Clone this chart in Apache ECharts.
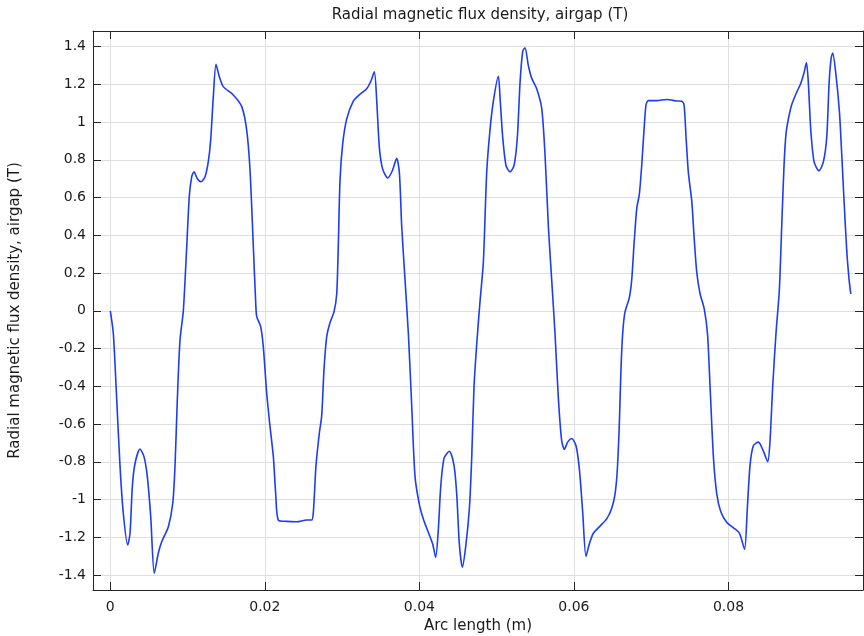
<!DOCTYPE html>
<html>
<head>
<meta charset="utf-8">
<title>Radial magnetic flux density, airgap (T)</title>
<script src="https://cdn.jsdelivr.net/npm/echarts@6/dist/echarts.min.js"></script>
<style>
  html, body { margin: 0; padding: 0; background: #ffffff; }
  #chart { width: 864px; height: 636px; }
</style>
</head>
<body>
<div id="chart"></div>
<script>
// Arc length along the airgap (m)
const arcLength = [
  0, 0.00039, 0.00083, 0.00126, 0.00168, 0.00225, 0.00255, 0.00285, 0.0032, 0.00384,
  0.00436, 0.00479, 0.00523, 0.00569, 0.00621, 0.00665, 0.00751, 0.00808, 0.00837, 0.00867,
  0.00902, 0.00945, 0.00989, 0.01022, 0.01053, 0.01083, 0.01126, 0.01174, 0.01226, 0.01268,
  0.01299, 0.01333, 0.01368, 0.01411, 0.01462, 0.01592, 0.01701, 0.01765, 0.01808, 0.01851,
  0.01882, 0.01895, 0.01946, 0.0198, 0.02024, 0.02067, 0.0211, 0.0214, 0.02174, 0.02283,
  0.02412, 0.02541, 0.02606, 0.02628, 0.02662, 0.02705, 0.02736, 0.02766, 0.028, 0.02843,
  0.02895, 0.0293, 0.02951, 0.02973, 0.03007, 0.03059, 0.03145, 0.03232, 0.03318, 0.0337,
  0.03417, 0.03448, 0.03482, 0.03525, 0.0359, 0.0365, 0.03706, 0.03741, 0.03771, 0.03814,
  0.03857, 0.039, 0.03943, 0.04, 0.04051, 0.04129, 0.04172, 0.04211, 0.04245, 0.04276,
  0.04319, 0.04388, 0.04448, 0.04483, 0.04517, 0.04556, 0.04603, 0.04647, 0.04677, 0.04707,
  0.04742, 0.04785, 0.04828, 0.04871, 0.04914, 0.04957, 0.05022, 0.05044, 0.05078, 0.05121,
  0.05173, 0.05225, 0.05268, 0.05302, 0.05337, 0.05367, 0.0541, 0.05453, 0.05518, 0.05583,
  0.05626, 0.05669, 0.05712, 0.05755, 0.05798, 0.05841, 0.05876, 0.05919, 0.05971, 0.06027,
  0.0607, 0.06113, 0.06156, 0.06199, 0.06251, 0.06338, 0.06424, 0.06489, 0.06532, 0.06562,
  0.06588, 0.06609, 0.06631, 0.06661, 0.06717, 0.06748, 0.06778, 0.06813, 0.06847, 0.06877,
  0.06907, 0.06933, 0.06963, 0.07071, 0.072, 0.0733, 0.07395, 0.07425, 0.07451, 0.07481,
  0.07525, 0.07555, 0.0759, 0.07633, 0.07685, 0.07728, 0.07762, 0.07806, 0.07849, 0.07901,
  0.07979, 0.08065, 0.08143, 0.08208, 0.08244, 0.08279, 0.08322, 0.08387, 0.08452, 0.08508,
  0.08538, 0.08572, 0.08615, 0.08658, 0.08689, 0.08719, 0.08745, 0.08775, 0.08818, 0.08883,
  0.08935, 0.08978, 0.09009, 0.09034, 0.09065, 0.09108, 0.09172, 0.09228, 0.09272, 0.09302,
  0.09328, 0.09349, 0.09393, 0.09436, 0.09466, 0.09496, 0.09531, 0.09561, 0.09583
];

// Radial flux density in the airgap (T)
const fluxDensity = [
  0.0, -0.12, -0.47, -0.826, -1.073, -1.241, -1.18, -0.932, -0.808, -0.732,
  -0.773, -0.879, -1.091, -1.391, -1.285, -1.224, -1.144, -1.02, -0.826, -0.473,
  -0.155, 0.0, 0.34, 0.605, 0.71, 0.737, 0.70, 0.684, 0.71, 0.79,
  0.905, 1.135, 1.306, 1.24, 1.188, 1.144, 1.082, 0.958, 0.746, 0.34,
  0.04, -0.031, -0.084, -0.19, -0.437, -0.614, -0.773, -0.967, -1.109, -1.116,
  -1.118, -1.109, -1.109, -1.065, -0.819, -0.649, -0.554, -0.308, -0.138, -0.063,
  -0.006, 0.089, 0.354, 0.694, 0.883, 1.016, 1.111, 1.148, 1.177, 1.215,
  1.266, 1.111, 0.865, 0.751, 0.704, 0.742, 0.808, 0.732, 0.448, 0.165,
  -0.119, -0.498, -0.876, -1.027, -1.103, -1.188, -1.236, -1.307, -1.16, -0.933,
  -0.781, -0.744, -0.819, -0.971, -1.236, -1.359, -1.236, -1.046, -0.781, -0.403,
  -0.176, 0.051, 0.259, 0.732, 0.959, 1.11, 1.243, 1.129, 0.921, 0.77,
  0.736, 0.77, 0.921, 1.205, 1.375, 1.394, 1.3, 1.233, 1.177, 1.073,
  0.827, 0.448, 0.165, -0.119, -0.46, -0.687, -0.734, -0.696, -0.677, -0.715,
  -0.838, -1.065, -1.302, -1.236, -1.179, -1.141, -1.103, -1.046, -0.971, -0.838,
  -0.592, -0.308, -0.119, -0.006, 0.07, 0.165, 0.354, 0.543, 0.619, 0.77,
  0.959, 1.092, 1.114, 1.114, 1.12, 1.112, 1.11, 1.092, 0.921, 0.732,
  0.581, 0.392, 0.202, 0.089, 0.013, -0.119, -0.403, -0.781, -0.971, -1.065,
  -1.122, -1.15, -1.179, -1.264, -1.046, -0.819, -0.715, -0.696, -0.744, -0.8,
  -0.687, -0.403, -0.119, 0.108, 0.448, 0.77, 0.94, 1.016, 1.092, 1.158,
  1.205, 1.262, 1.315, 1.205, 0.959, 0.789, 0.742, 0.789, 0.921, 1.205,
  1.338, 1.366, 1.243, 1.054, 0.827, 0.581, 0.316, 0.165, 0.089
];

// Axis ticks
const xTicks = [0, 0.02, 0.04, 0.06, 0.08];
const yTicks = [-1.4, -1.2, -1, -0.8, -0.6, -0.4, -0.2, 0, 0.2, 0.4, 0.6, 0.8, 1, 1.2, 1.4];

// Axis ranges
const xRange = [-0.00224, 0.09741];
const yRange = [-1.4796, 1.4828];

const titleText = 'Radial magnetic flux density, airgap (T)';
const xName = 'Arc length (m)';
const yName = 'Radial magnetic flux density, airgap (T)';

const FONT = 'DejaVu Sans';
const TEXT_COLOR = '#1a1a1a';
const FRAME_COLOR = '#262626';
const GRID_COLOR = '#dedede';
const LINE_COLOR = '#1d3cf5';

const seriesData = arcLength.map((x, i) => [x, fluxDensity[i]]);

const frameLine = { show: true, onZero: false, lineStyle: { color: FRAME_COLOR, width: 1 } };

const chart = echarts.init(document.getElementById('chart'), null, { renderer: 'canvas' });

chart.setOption({
  animation: false,
  backgroundColor: '#ffffff',
  title: {
    text: titleText,
    left: 480,
    top: 8,
    padding: 0,
    textAlign: 'center',
    textStyle: { fontFamily: FONT, fontSize: 15, fontWeight: 'normal', color: TEXT_COLOR }
  },
  // fixed plot rectangle; labels and names sit outside it
  grid: { left: 93, right: 1, top: 31, bottom: 46, containLabel: false, outerBoundsMode: 'none' },
  xAxis: [
    {
      type: 'value',
      position: 'bottom',
      min: xRange[0],
      max: xRange[1],
      name: xName,
      nameLocation: 'middle',
      nameGap: 28,
      nameTextStyle: { fontFamily: FONT, fontSize: 15, color: TEXT_COLOR },
      axisLine: frameLine,
      axisTick: { show: true, inside: true, length: 8, customValues: xTicks,
                  lineStyle: { color: FRAME_COLOR, width: 1 } },
      axisLabel: { show: true, customValues: xTicks, margin: 10, showMinLabel: true, showMaxLabel: true,
                   fontFamily: FONT, fontSize: 14, color: TEXT_COLOR,
                   formatter: v => String(v) },
      splitLine: { show: true, lineStyle: { color: GRID_COLOR, width: 1 } }
    },
    {
      type: 'value',
      position: 'top',
      min: xRange[0],
      max: xRange[1],
      axisLine: frameLine,
      axisTick: { show: true, inside: true, length: 8, customValues: xTicks,
                  lineStyle: { color: FRAME_COLOR, width: 1 } },
      axisLabel: { show: false },
      splitLine: { show: false }
    }
  ],
  yAxis: [
    {
      type: 'value',
      position: 'left',
      min: yRange[0],
      max: yRange[1],
      name: yName,
      nameLocation: 'middle',
      nameGap: 70,
      nameTextStyle: { fontFamily: FONT, fontSize: 15, color: TEXT_COLOR },
      axisLine: frameLine,
      axisTick: { show: true, inside: true, length: 8, customValues: yTicks,
                  lineStyle: { color: FRAME_COLOR, width: 1 } },
      axisLabel: { show: true, customValues: yTicks, margin: 7,
                   fontFamily: FONT, fontSize: 14, color: TEXT_COLOR,
                   formatter: v => String(v) },
      splitLine: { show: true, lineStyle: { color: GRID_COLOR, width: 1 } }
    },
    {
      type: 'value',
      position: 'right',
      min: yRange[0],
      max: yRange[1],
      axisLine: frameLine,
      axisTick: { show: true, inside: true, length: 8, customValues: yTicks,
                  lineStyle: { color: FRAME_COLOR, width: 1 } },
      axisLabel: { show: false },
      splitLine: { show: false }
    }
  ],
  series: [
    {
      type: 'line',
      xAxisIndex: 0,
      yAxisIndex: 0,
      data: seriesData,
      showSymbol: false,
      smooth: 0.25,
      lineStyle: { color: LINE_COLOR, width: 1.6 },
      itemStyle: { color: LINE_COLOR }
    }
  ]
});
</script>
</body>
</html>
